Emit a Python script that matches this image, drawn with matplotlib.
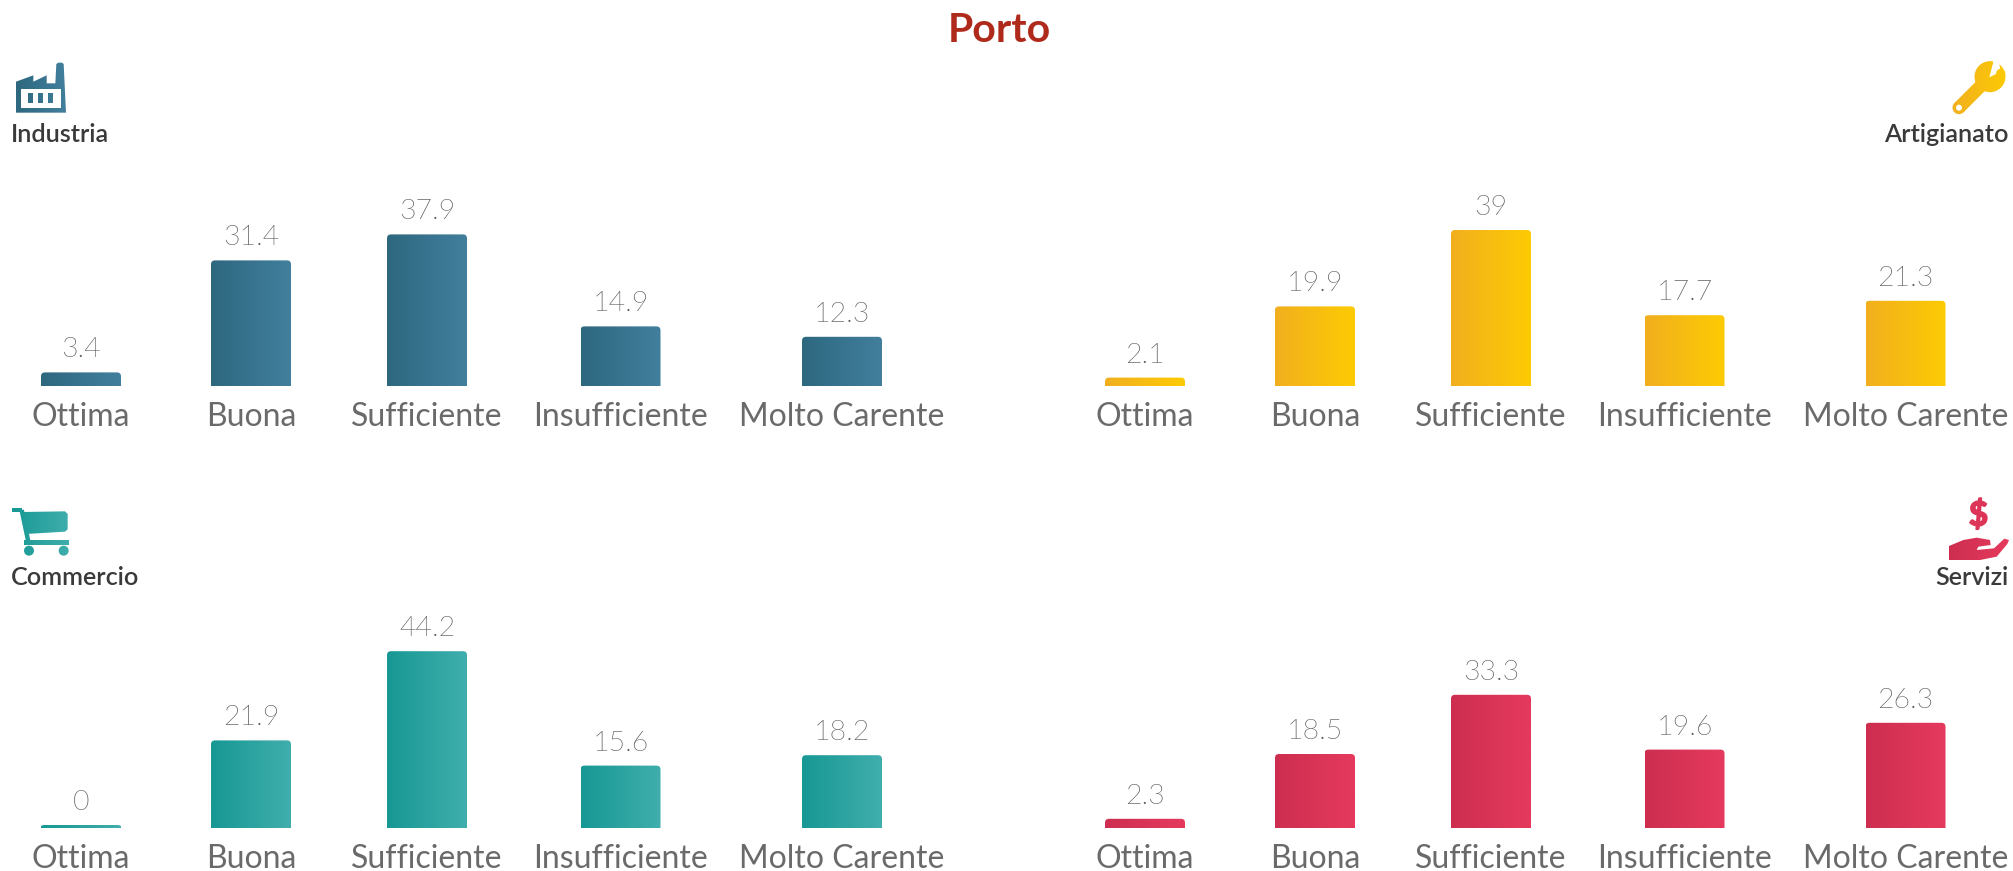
import numpy as np
import matplotlib
matplotlib.use("Agg")
import matplotlib.pyplot as plt
import matplotlib.patheffects as pe
from matplotlib import font_manager as fm
from matplotlib.patches import PathPatch
from matplotlib.path import Path

categories = ["Ottima", "Buona", "Sufficiente", "Insufficiente", "Molto Carente"]
industria = [3.4, 31.4, 37.9, 14.9, 12.3]
artigianato = [2.1, 19.9, 39, 17.7, 21.3]
commercio = [0, 21.9, 44.2, 15.6, 18.2]
servizi = [2.3, 18.5, 33.3, 19.6, 26.3]

W, H = 2013, 871
plt.rcParams["font.family"] = ["Lato", "DejaVu Sans"]
fig = plt.figure(figsize=(W / 100, H / 100), dpi=100, facecolor="white")

# Lato Light for value labels, found by file name (weight matching picks Hairline)
light_file = None
for f in fm.fontManager.ttflist:
    base = f.fname.rsplit("/", 1)[-1].lower()
    if f.name.startswith("Lato") and "light" in base and "italic" not in base and "hair" not in base:
        light_file = f.fname
        break
value_font = fm.FontProperties(fname=light_file, size=20.5) if light_file else fm.FontProperties(family="Lato", size=20.5)
value_color = "#5c5c5c" if light_file else "#909090"

PX_PER_UNIT = 4.0
BAR_W = 80
LEFT_CENTERS = [81, 251, 427, 620.5, 842]
RIGHT_CENTERS = [1145, 1315, 1491, 1684.5, 1905.5]
MIN_H = 0.75


def hex_rgb(c):
    return np.array(matplotlib.colors.to_rgb(c))


def gradient(c0, c1):
    t = np.linspace(0, 1, 64)[:, None]
    return (hex_rgb(c0) * (1 - t) + hex_rgb(c1) * t)[None, :, :]


def panel(x0, x1, base, top, centers, values, c0, c1):
    ax = fig.add_axes([x0 / W, 1 - base / H, (x1 - x0) / W, (base - top) / H])
    ax.set_xlim(x0, x1)
    ax.set_ylim(0, (base - top) / PX_PER_UNIT)
    ax.set_axis_off()
    ax.patch.set_alpha(0)
    g = gradient(c0, c1)
    bars = ax.bar(centers, [max(v, MIN_H) for v in values], width=BAR_W, color="none")
    for b, v, c, name in zip(bars, values, centers, categories):
        bx, bw, bh = b.get_x(), b.get_width(), b.get_height()
        im = ax.imshow(g, extent=(bx, bx + bw, 0, bh), aspect="auto", zorder=2,
                       interpolation="bilinear")
        r_x = 4.0
        r_y = min(4.0 / PX_PER_UNIT, bh / 2)
        p = Path([(bx, 0), (bx, bh - r_y), (bx, bh), (bx + r_x, bh), (bx + bw - r_x, bh),
                  (bx + bw, bh), (bx + bw, bh - r_y), (bx + bw, 0), (bx, 0)],
                 [1, 2, 3, 3, 2, 3, 3, 2, 79])
        im.set_clip_path(PathPatch(p, transform=ax.transData))
        ax.text(c, max(v, MIN_H) + 10 / PX_PER_UNIT, str(v), ha="center", va="bottom",
                fontproperties=value_font, color=value_color)
        ax.text(c, -15.5 / PX_PER_UNIT, name, ha="center", va="top", fontsize=23,
                color="#6a6a6a", clip_on=False)
    ax.set_xlim(x0, x1)
    ax.set_ylim(0, (base - top) / PX_PER_UNIT)
    return ax


panel(0, 1000, 386, 130, LEFT_CENTERS, industria, "#2d687f", "#427f9d")
panel(1010, 2013, 386, 130, RIGHT_CENTERS, artigianato, "#f1af1e", "#fdcb04")
panel(0, 1000, 828, 570, LEFT_CENTERS, commercio, "#179894", "#40aeac")
panel(1010, 2013, 828, 570, RIGHT_CENTERS, servizi, "#cd2e50", "#e53a5d")

# Overlay in pixel coordinates for title, panel names and icons
ov = fig.add_axes([0, 0, 1, 1], zorder=5)
ov.set_xlim(0, W)
ov.set_ylim(H, 0)
ov.set_axis_off()
ov.patch.set_alpha(0)

ov.text(999, 31, "Porto", ha="center", va="center", fontsize=29.5, fontweight="bold", color="#b02a1c")
name_style = dict(va="center", fontsize=18.05, color="#3a3a3a", fontweight="semibold")
ov.text(11, 135, "Industria", ha="left", **name_style)
ov.text(2009, 135, "Artigianato", ha="right", **name_style)
ov.text(11, 577, "Commercio", ha="left", **name_style)
ov.text(2009, 577, "Servizi", ha="right", **name_style)


def zp(pts, ox, oy):
    return [(ox + x / 3, oy + y / 3) for x, y in pts]


def poly_path(pts):
    return Path(pts + [pts[0]], [1] + [2] * (len(pts) - 1) + [79])


def circ_path(cx, cy, r):
    c = Path.unit_circle()
    return Path(c.vertices * r + (cx, cy), c.codes)


def line_path(a, b, w):
    a, b = np.array(a, float), np.array(b, float)
    n = np.array([-(b - a)[1], (b - a)[0]])
    n = n / np.hypot(*n) * w / 2
    return poly_path([tuple(a + n), tuple(b + n), tuple(b - n), tuple(a - n)])


def grad_icon(paths, ext, c0, c1, z=3):
    for p in paths:
        im = ov.imshow(gradient(c0, c1), extent=(ext[0], ext[1], ext[3], ext[2]), aspect="auto", zorder=z)
        im.set_clip_path(PathPatch(p, transform=ov.transData))


def white(paths):
    for p in paths:
        ov.add_patch(PathPatch(p, fc="white", ec="none", zorder=4))


# factory
ox, oy = 0, 40
grad_icon([poly_path(zp([(48, 125), (100, 106), (100, 125), (140, 106), (140, 130), (166, 130), (169, 72),
                         (175, 68), (186, 68), (191, 72), (198, 218), (48, 218)], ox, oy))],
          (16, 66, 60, 115), "#2d687f", "#427f9d")
white([poly_path(zp([(63, 146), (184, 146), (184, 205), (63, 205)], ox, oy))])
grad_icon([poly_path(zp([(x, 160), (x + 15, 160), (x + 15, 188), (x, 188)], ox, oy)) for x in (85, 115, 145)],
          (16, 66, 60, 115), "#2d687f", "#427f9d", z=5)

# wrench
ox, oy = 1850, 40
wa, wb = zp([(327, 203), (415, 115)], ox, oy)
grad_icon([line_path(wa, wb, 13), circ_path(*wa, 6.5),
           circ_path(*zp([(420, 110)], ox, oy)[0], 15.5)], (1952, 2007, 60, 115), "#f1af1e", "#fdcb04")
white([poly_path(zp([(418, 112), (432, 58), (446, 60), (452, 95)], ox, oy)), circ_path(*wa, 3)])
grad_icon([circ_path(*zp([(452, 100)], ox, oy)[0], 4.5)], (1952, 2007, 60, 115), "#f1af1e", "#fdcb04", z=5)

# cart
ox, oy = 0, 490
cart = [line_path(*zp([(36, 60), (65, 60)], ox, oy), 4.5),
        line_path(*zp([(65, 60), (85, 155)], ox, oy), 4.5),
        poly_path(zp([(68, 66), (195, 64), (203, 72), (203, 118), (195, 125), (78, 132)], ox, oy)),
        line_path(*zp([(72, 157), (208, 157)], ox, oy), 4.5),
        circ_path(*zp([(87, 182)], ox, oy)[0], 5), circ_path(*zp([(191, 182)], ox, oy)[0], 5)]
grad_icon(cart, (10, 71, 505, 558), "#179894", "#40aeac")

# hand
ox, oy = 1850, 490
grad_icon([poly_path(zp([(297, 168), (340, 150), (380, 143), (420, 150), (422, 165), (385, 170), (380, 180),
                         (432, 175), (463, 146), (477, 150), (472, 162), (440, 200), (380, 212), (297, 212)], ox, oy))],
          (1948, 2010, 535, 560), "#cd2e50", "#e53a5d")
ov.text(1978.5, 515.5, "$", ha="center", va="center", fontsize=24, fontweight="bold", color="#dc3558", zorder=4,
        path_effects=[pe.withStroke(linewidth=1.2, foreground="#dc3558")])

ov.set_xlim(0, W)
ov.set_ylim(H, 0)
fig.savefig("out.png", dpi=100, facecolor="white")
